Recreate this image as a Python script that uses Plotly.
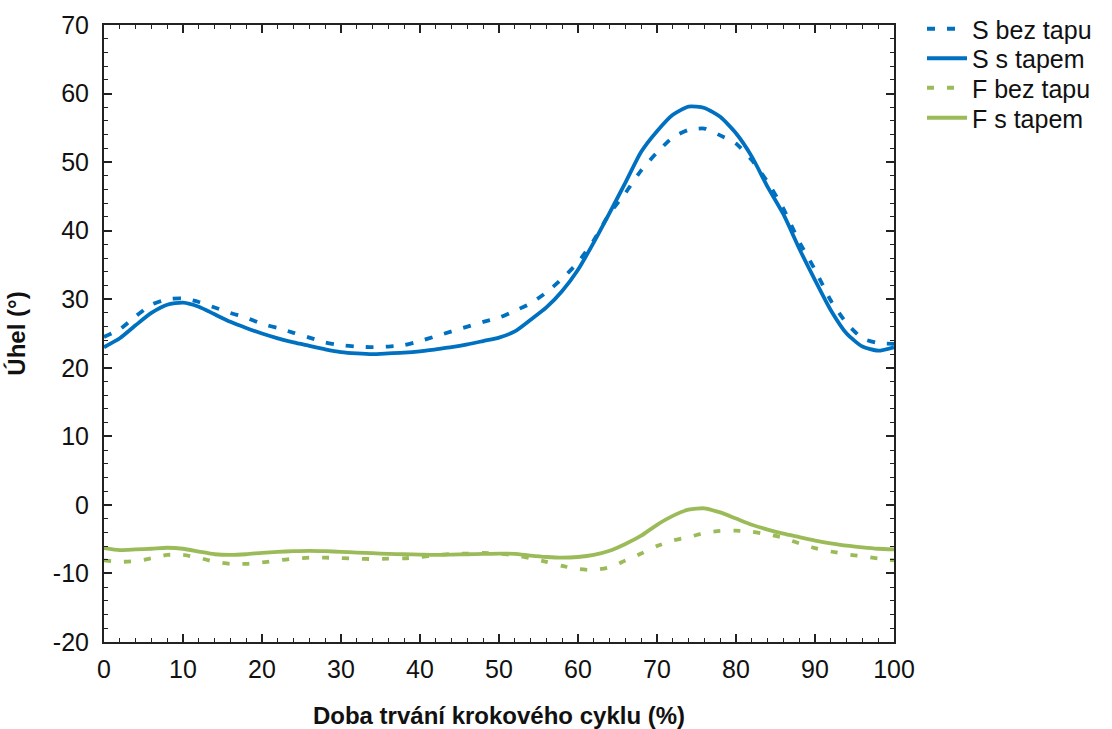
import plotly.graph_objects as go

x = list(range(0, 101, 2))

s_bez_tapu = [24.5, 25.6, 27.5, 29.2, 30.0, 30.1, 29.6, 28.8, 28.0, 27.3,
              26.4, 25.8, 25.1, 24.4, 23.7, 23.3, 23.1, 23.0, 23.1, 23.3,
              23.9, 24.6, 25.3, 26.0, 26.7, 27.3, 28.3, 29.4, 31.0, 33.0,
              35.4, 38.6, 42.5, 45.5, 48.8, 51.4, 53.6, 54.7, 54.9, 53.9,
              52.7, 50.3, 47.1, 43.2, 38.4, 34.3, 29.8, 26.5, 24.3, 23.6, 23.5]

s_s_tapem = [23.0, 24.3, 26.2, 28.0, 29.2, 29.5, 28.9, 27.8, 26.7, 25.8,
             25.0, 24.3, 23.7, 23.2, 22.7, 22.3, 22.1, 22.0, 22.1, 22.2,
             22.4, 22.7, 23.0, 23.4, 23.9, 24.4, 25.3, 27.0, 28.8, 31.2,
             34.3, 38.3, 42.6, 47.0, 51.5, 54.5, 56.9, 58.1, 57.9, 56.6,
             54.2, 50.8, 46.4, 42.4, 37.4, 32.8, 28.4, 25.0, 23.1, 22.5, 23.0]

f_bez_tapu = [-8.1, -8.3, -8.2, -7.8, -7.3, -7.3, -7.7, -8.3, -8.6, -8.6,
              -8.4, -8.1, -7.85, -7.7, -7.7, -7.75, -7.85, -7.9, -7.85, -7.8,
              -7.6, -7.35, -7.15, -7.1, -7.0, -7.1, -7.35, -7.8, -8.3, -8.9,
              -9.35, -9.5, -9.1, -8.1, -7.1, -6.0, -5.2, -4.7, -4.1, -3.8,
              -3.75, -3.9, -4.3, -4.8, -5.6, -6.3, -6.8, -7.2, -7.5, -7.8, -8.1]

f_s_tapem = [-6.3, -6.6, -6.5, -6.4, -6.25, -6.4, -6.8, -7.2, -7.3, -7.2,
             -7.0, -6.85, -6.75, -6.7, -6.75, -6.85, -6.95, -7.05, -7.15, -7.2,
             -7.25, -7.3, -7.25, -7.2, -7.15, -7.1, -7.15, -7.4, -7.6, -7.7,
             -7.6, -7.3, -6.7, -5.7, -4.5, -2.9, -1.6, -0.7, -0.5, -1.1,
             -2.0, -2.9, -3.6, -4.2, -4.7, -5.2, -5.6, -5.95, -6.2, -6.4, -6.5]

names = ["S bez tapu", "S s tapem", "F bez tapu", "F s tapem"]

x_tickvals = [0, 10, 20, 30, 40, 50, 60, 70, 80, 90, 100]
x_ticktext = ["0", "10", "20", "30", "40", "50", "60", "70", "80", "90", "100"]
y_tickvals = [-20, -10, 0, 10, 20, 30, 40, 50, 60, 70]
y_ticktext = ["-20", "-10", "0", "10", "20", "30", "40", "50", "60", "70"]

BLUE = "#0070C0"
GREEN = "#9BBB59"
FONT = "Liberation Sans, Arial, sans-serif"
TXT = "#111111"

fig = go.Figure()
series = [
    (names[0], s_bez_tapu, BLUE, "8px,12px", "legend"),
    (names[1], s_s_tapem, BLUE, "solid", "legend2"),
    (names[2], f_bez_tapu, GREEN, "7px,13px", "legend3"),
    (names[3], f_s_tapem, GREEN, "solid", "legend4"),
]
for name, ys, col, dash, lg in series:
    fig.add_trace(go.Scatter(
        x=x, y=ys, name=name, mode="lines", legend=lg,
        line=dict(color=col, width=3.8, dash=dash, shape="spline", smoothing=0.6),
    ))

axis_common = dict(
    showgrid=False, zeroline=False, automargin=False,
    showline=True, linecolor="#222222", linewidth=2, mirror="allticks",
    ticks="inside", ticklen=8, tickwidth=1.5, tickcolor="#222222",
    tickfont=dict(family=FONT, size=25, color=TXT),
    minor=dict(ticks="inside", ticklen=4, tickwidth=1.2, tickcolor="#222222", dtick=2),
)

fig.update_xaxes(
    range=[0, 100], tickmode="array", tickvals=x_tickvals, ticktext=x_ticktext,
    ticklabelstandoff=4,
    title=dict(text="<b>Doba trvání krokového cyklu (%)</b>",
               font=dict(family=FONT, size=24, color=TXT), standoff=25),
    **axis_common,
)
fig.update_yaxes(
    range=[-20, 70], tickmode="array", tickvals=y_tickvals, ticktext=y_ticktext,
    ticklabelstandoff=8,
    title=dict(text="<b>Úhel (°)</b>",
               font=dict(family=FONT, size=24, color=TXT), standoff=20),
    **axis_common,
)

# legend entry centres, in pixel rows of the 729-px-tall page
legend_rows = [29, 58.5, 88, 118]
leg_common = dict(x=922 / 1112, xref="container", yref="container",
                  xanchor="left", yanchor="middle",
                  font=dict(family=FONT, size=25, color=TXT),
                  bgcolor="rgba(0,0,0,0)", itemwidth=40)
legends = {}
for i, row in enumerate(legend_rows):
    key = "legend" if i == 0 else f"legend{i+1}"
    legends[key] = dict(y=1 - row / 729, **leg_common)

fig.update_layout(
    width=1112, height=729,
    margin=dict(l=104, r=218, t=25, b=87, autoexpand=False),
    paper_bgcolor="white", plot_bgcolor="white",
    font=dict(family=FONT, size=25, color=TXT),
    showlegend=True,
    **legends,
)

fig.write_html("out.html")
